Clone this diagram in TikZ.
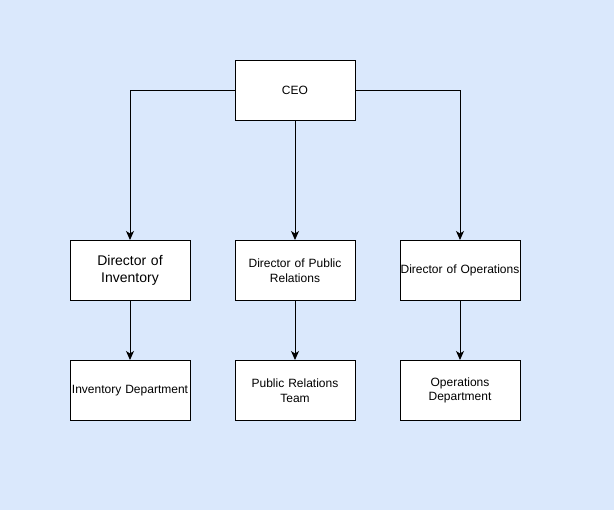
\documentclass[tikz,border=0pt]{standalone}
\usepackage{fontspec}
\setmainfont{Liberation Sans}
\usetikzlibrary{arrows.meta,positioning}
\definecolor{bgblue}{HTML}{DAE8FC}
\tikzset{
  box/.style={draw=black, fill=white, line width=1pt, minimum width=120pt, minimum height=60pt, inner xsep=0pt, inner ysep=1pt, align=center, text width=120pt, font=\fontsize{12pt}{14.5pt}\selectfont},
  bigbox/.style={box, font=\fontsize{14pt}{17pt}\selectfont},
  conn/.style={draw=black, line width=1pt, -{Stealth[length=9pt,width=8pt,inset=2.5pt]}}
}
\begin{document}
\begin{tikzpicture}[x=1pt,y=-1pt]
\fill[bgblue] (0,0) rectangle (614,510);
\useasboundingbox (0,0) rectangle (614,510);
\node[box] (ceo) at (295,90.5) {CEO};
\node[bigbox] (dinv) at (130,270.5) {Director of\\Inventory};
\node[box] (dpr) at (295,270.5) {Director of Public\\Relations};
\node[box] (dops) at (460,270.5) {\mbox{Director of Operations}};
\node[box] (inv) at (130,390.5) {\mbox{Inventory Department}};
\node[box] (pr) at (295,390.5) {Public Relations\\Team};
\node[box] (ops) at (460,390.5) {Operations\\Department};
\draw[conn] (ceo.west) -| (dinv.north);
\draw[conn] (ceo.south) -- (dpr.north);
\draw[conn] (ceo.east) -| (dops.north);
\draw[conn] (dinv.south) -- (inv.north);
\draw[conn] (dpr.south) -- (pr.north);
\draw[conn] (dops.south) -- (ops.north);
\end{tikzpicture}
\end{document}
